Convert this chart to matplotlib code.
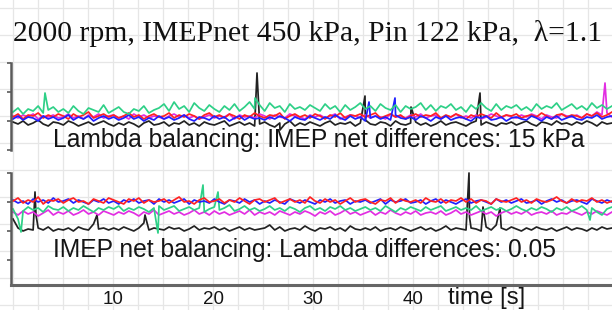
import numpy as np
import matplotlib
matplotlib.use("Agg")
import matplotlib.pyplot as plt

# ---------------- data (arbitrary vertical units, time in s) ----------------
title = "2000 rpm, IMEPnet 450 kPa, Pin 122 kPa,  \u03bb=1.1"
top_label = "Lambda balancing: IMEP net differences: 15 kPa"
bot_label = "IMEP net balancing: Lambda differences: 0.05"
xtick_vals = [10, 20, 30, 40]
xtick_labels = ["10", "20", "30", "40"]
xlabel = "time [s]"

n_samples = 120
t_end = 59.9

# top panel (Lambda balancing)
blk_top = [28,26,29,25,27,30,26,24,28,27, 25,29,27,24,26,28,25,27,29,26,
           24,27,25,28,26,23,27,29,25,26, 28,24,27,26,29,25,27,24,28,26,
           25,27,29,24,26,28,25,27,24,26, 28,25,23,27,26,29,24,27,25,28,
           26,24,27,29,25,27,26,28,24,27, 30,26,25,28,27,24,29,26,25,27,
           28,25,27,24,26,29,25,27,28,26, 24,27,29,25,28,26,24,27,26,28,
           25,27,29,26,24,28,27,25,29,26, 27,25,28,26,29,27,24,28,26,27]
grn_top = [38,42,36,41,39,44,37,40,43,38, 41,37,44,39,36,42,40,38,45,37,
           40,43,38,36,41,39,44,37,40,42, 46,39,48,41,44,38,47,42,39,45,
           41,38,44,40,46,39,43,48,41,45, 39,47,42,44,38,46,41,43,40,45,
           42,39,46,41,44,38,45,40,43,47, 41,44,39,46,42,40,45,38,44,41,
           43,47,40,45,39,44,42,46,40,43, 38,45,41,47,42,39,46,40,44,42,
           45,40,43,39,46,41,44,42,47,40, 43,46,41,44,40,47,42,45,41,44]
red_top = [33,36,31,35,34,37,32,35,33,36, 34,31,36,33,35,38,32,34,36,33,
           35,32,34,37,33,35,31,34,36,33, 34,37,32,35,33,36,34,31,35,37,
           33,35,32,36,34,31,35,33,37,34, 32,35,34,37,31,34,36,33,35,32,
           36,34,31,35,33,37,32,35,34,36, 33,35,37,32,34,36,33,35,31,34,
           36,33,35,34,37,32,35,33,36,34, 31,35,33,36,34,32,37,33,35,34,
           36,32,34,35,33,37,34,31,35,36, 33,35,34,32,36,34,37,33,35,38]
blu_top = [31,34,30,33,32,29,34,31,33,30, 32,35,30,33,31,34,29,32,34,31,
           33,30,32,35,31,33,29,32,30,34, 31,33,30,32,35,31,29,33,32,30,
           34,31,33,29,32,34,30,33,31,32, 30,33,31,34,32,29,33,31,30,34,
           32,30,33,31,35,32,30,34,31,33, 29,32,34,31,33,30,35,32,31,33,
           30,34,32,29,33,31,34,30,32,33, 31,29,33,32,34,30,31,33,29,32,
           33,31,30,34,32,29,33,31,34,30, 32,34,31,30,33,32,35,31,33,34]
mag_top = [34,32,35,33,36,31,34,33,35,32, 33,36,32,34,31,35,33,36,32,34,
           35,32,34,31,36,33,35,32,34,33, 31,34,36,33,35,32,34,31,33,35,
           32,34,33,36,31,35,33,34,32,36, 34,31,35,33,32,36,34,33,31,35,
           33,35,32,34,36,31,33,35,34,32, 35,32,34,33,31,36,33,34,32,35,
           33,36,32,34,35,31,34,33,36,32, 34,32,35,31,33,36,34,32,35,33,
           32,35,33,36,34,31,35,33,32,36, 34,33,35,32,36,34,38,35,37,33]

# isolated spikes (time, value)
blk_top_ev_t = [24.4, 26.7, 35.2, 39.8, 46.7]
blk_top_ev_v = [77, 20, 54, 43, 57]
grn_top_ev_t = [3.2, 24.2]
grn_top_ev_v = [57, 52]
blu_top_ev_t = [35.6, 38.2]
blu_top_ev_v = [48, 52]
mag_top_ev_t = [59.2]
mag_top_ev_v = [67]
red_top_ev_t = []
red_top_ev_v = []

# bottom panel (IMEP net balancing)
red_bot = [84,87,82,85,83,88,81,85,84,86, 82,85,87,83,84,81,86,84,82,87,
           85,83,81,86,84,87,82,85,83,84, 86,82,85,88,83,84,81,85,87,83,
           84,86,82,85,83,87,84,81,85,86, 83,85,87,82,84,86,83,85,82,88,
           84,82,86,83,85,81,84,87,83,85, 86,83,81,85,84,87,82,86,84,83,
           85,82,87,84,83,86,82,85,84,87, 83,86,82,85,84,81,86,84,83,85,
           87,83,85,82,86,84,83,85,88,84, 82,86,83,85,84,87,83,85,82,84]
blu_bot = [85,82,84,81,86,83,85,82,87,83, 84,86,82,85,83,81,85,83,86,82,
           84,81,85,83,86,82,84,85,81,86, 83,85,82,84,86,81,85,83,84,82,
           86,83,81,85,84,82,86,83,85,81, 84,82,85,83,81,86,84,82,85,83,
           81,85,83,86,82,84,85,81,84,83, 85,82,84,86,81,85,83,84,86,82,
           83,85,81,84,86,82,85,83,81,84, 86,82,84,85,83,81,86,83,85,82,
           84,86,82,83,85,81,84,86,83,85, 82,84,85,83,81,86,84,82,85,83]
grn_bot = [76,66,74,78,75,77,73,79,76,75, 78,74,77,75,79,76,73,77,75,78,
           76,79,74,77,75,78,76,73,77,79, 75,77,79,74,76,78,75,77,73,76,
           78,75,77,80,74,76,79,75,77,74, 76,79,75,77,74,78,76,73,77,79,
           75,77,74,78,76,79,75,77,74,76, 78,75,77,74,79,76,73,77,75,78,
           76,74,78,75,77,79,74,76,78,75, 77,75,79,74,76,78,75,77,74,76,
           79,76,74,77,75,78,76,73,77,75, 78,74,76,79,75,77,73,70,76,78]
mag_bot = [73,70,74,71,73,69,72,75,70,73, 71,74,70,72,75,71,73,70,74,72,
           70,73,71,74,72,69,73,71,75,70, 72,74,71,73,70,72,75,71,73,70,
           74,71,73,70,72,74,71,75,70,73, 71,73,70,74,72,70,73,71,74,72,
           69,73,71,74,70,72,75,71,73,70, 72,74,70,73,71,75,72,70,73,71,
           74,70,72,73,71,74,70,72,75,71, 73,70,72,74,71,73,69,72,74,71,
           73,71,74,70,72,73,71,74,70,72, 71,74,72,70,73,71,74,72,70,73]
blk_bot = [66,57,54,56,55,57,55,58,54,56, 55,57,54,58,56,55,61,56,57,55,
           57,55,58,56,54,57,62,55,57,56, 55,58,56,57,54,56,59,55,57,56,
           58,55,57,54,56,58,55,57,55,56, 57,60,55,58,54,56,57,55,59,56,
           54,57,56,58,55,57,54,59,56,55, 57,55,58,54,56,57,55,58,56,54,
           56,58,55,57,54,56,59,55,57,56, 55,57,56,54,58,55,60,57,55,58,
           56,54,57,55,58,56,55,57,54,56, 58,55,57,56,54,57,55,58,56,57]

blk_bot_ev_t = [2.2, 2.3, 8.4, 13.2, 45.6, 45.65, 47.0, 48.7]
blk_bot_ev_v = [93, 70, 70, 70, 112, 68, 78, 77]
grn_bot_ev_t = [0.8, 14.5, 19.0, 20.5, 57.7]
grn_bot_ev_v = [53, 52, 100, 93, 65]
red_bot_ev_t = []
red_bot_ev_v = []
blu_bot_ev_t = []
blu_bot_ev_v = []
mag_bot_ev_t = []
mag_bot_ev_v = []

# ---------------- helpers ----------------
t_base = np.linspace(0.0, t_end, n_samples)


def merged(vals, ev_t, ev_v):
    t = np.concatenate([t_base, np.asarray(ev_t, float)])
    v = np.concatenate([np.asarray(vals, float), np.asarray(ev_v, float)])
    order = np.argsort(t, kind="stable")
    return t[order], v[order]


W, H = 612, 310
fig = plt.figure(figsize=(W / 100, H / 100), dpi=100)

# background graph-paper grid
t_px0 = 13.0      # pixel of t = 0
px_per_s = 10.0
bg = fig.add_axes([0, 0, 1, 1])
bg.set_xlim(-t_px0 / px_per_s, (W - t_px0) / px_per_s)
bg.set_ylim(H, 0)
bg.axis("off")
for gx in np.arange(0, 61, 2.5):
    bg.axvline(gx, color="#e6e6e6", lw=0.9, zorder=0)
for gy in np.arange(8, H, 27):
    bg.axhline(gy, color="#e6e6e6", lw=0.9, zorder=0)

left_px = 11.0
xl = ((left_px - t_px0) / px_per_s, (W - t_px0) / px_per_s)

col = {"blk": "#222222", "red": "#ff2222", "blu": "#2020ff",
       "mag": "#e22ee2", "grn": "#2ed087"}
LW = 1.25


def make_axes(top_px, bot_px):
    ax = fig.add_axes([left_px / W, (H - bot_px) / H,
                       (W - left_px) / W, (bot_px - top_px) / H])
    ax.set_facecolor("none")
    ax.set_xlim(*xl)
    for s in ("top", "right"):
        ax.spines[s].set_visible(False)
    ax.spines["left"].set_color("#5a5a5a")
    ax.spines["left"].set_linewidth(1.8)
    ax.tick_params(axis="y", direction="out", length=3, width=1.2,
                   color="#5a5a5a", labelleft=False)
    return ax


# top panel
ax1 = make_axes(63, 150)
ax1.set_ylim(0, 87)
ax1.set_yticks([0, 29, 58, 87])
ax1.spines["bottom"].set_visible(False)
ax1.set_xticks([])
for key, vals, et, ev in [("blk", blk_top, blk_top_ev_t, blk_top_ev_v),
                          ("mag", mag_top, mag_top_ev_t, mag_top_ev_v),
                          ("red", red_top, red_top_ev_t, red_top_ev_v),
                          ("blu", blu_top, blu_top_ev_t, blu_top_ev_v),
                          ("grn", grn_top, grn_top_ev_t, grn_top_ev_v)]:
    tt, vv = merged(vals, et, ev)
    ax1.plot(tt, vv, color=col[key], lw=LW, clip_on=False)
ax1.text(4.0, 3, top_label, family="Liberation Sans", fontsize=17.7,
         color="#151515", va="baseline", ha="left", zorder=5)

# bottom panel
ax2 = make_axes(173, 285)
ax2.set_ylim(0, 112)
ax2.set_yticks([25, 54, 83, 112])
ax2.spines["bottom"].set_color("#666666")
ax2.spines["bottom"].set_linewidth(2.2)
ax2.set_xticks(xtick_vals)
ax2.set_xticklabels(xtick_labels, family="Liberation Sans", fontsize=13.5,
                    color="#151515")
ax2.tick_params(axis="x", length=0, pad=4)
for key, vals, et, ev in [("blk", blk_bot, blk_bot_ev_t, blk_bot_ev_v),
                          ("mag", mag_bot, mag_bot_ev_t, mag_bot_ev_v),
                          ("grn", grn_bot, grn_bot_ev_t, grn_bot_ev_v),
                          ("blu", blu_bot, blu_bot_ev_t, blu_bot_ev_v),
                          ("red", red_bot, red_bot_ev_t, red_bot_ev_v)]:
    tt, vv = merged(vals, et, ev)
    ax2.plot(tt, vv, color=col[key], lw=LW, clip_on=False)
ax2.text(4.0, 28, bot_label, family="Liberation Sans", fontsize=17.7,
         color="#151515", va="baseline", ha="left", zorder=5)
ax2.text(43.5, -13, xlabel, family="Liberation Sans", fontsize=17.3,
         color="#151515", va="center", ha="left")

# title
fig.text(13 / W, 1 - 41 / H, title, family="Liberation Serif",
         fontsize=21.3, color="#111111", va="baseline", ha="left")

fig.savefig("out.png", dpi=100)
